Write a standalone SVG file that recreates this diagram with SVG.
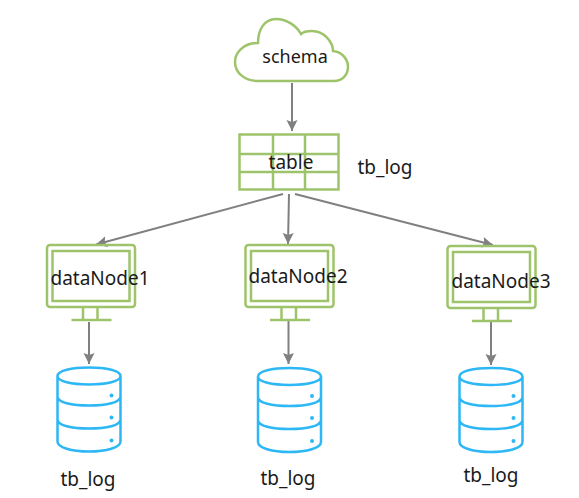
<svg xmlns="http://www.w3.org/2000/svg" width="579" height="498" viewBox="0 0 579 498">
<style>
.g{fill:none;stroke:#9dc46b;stroke-width:2.500}
.b{fill:none;stroke:#2db7f5;stroke-width:2.500}
.d{fill:#2db7f5}
.c{fill:none;stroke:#808080;stroke-width:2}
text{font-family:"Noto Sans","Open Sans",sans-serif;font-size:19px;fill:#1a1a1a}
.m{text-anchor:middle}
</style>
<defs>
<marker id="a" markerUnits="userSpaceOnUse" markerWidth="12" markerHeight="12" refX="11" refY="5.500" orient="auto"><path d="M0 0L11 5.500L0 11L2 5.500Z" fill="#808080"/></marker>
<g id="mon">
<rect x="-42.500" y="0" width="88" height="62" rx="3" class="g"/>
<rect x="-37" y="6" width="77" height="50" class="g"/>
<path d="M-6.500 62V75M8 62V75M-18 75H22" class="g"/>
</g>
<g id="cyl">
<path d="M0 8.500C0 3 14 0 31.500 0S63 3 63 8.500V74C63 80 49 84 31.500 84S0 80 0 74Z M0 8.500C0 14 14 17 31.500 17S63 14 63 8.500M0 29C0 35 14 38 31.500 38S63 35 63 29M0 52C0 58 14 61 31.500 61S63 58 63 52" class="b"/>
<circle cx="54" cy="28" r="2" class="d"/><circle cx="54" cy="50" r="2" class="d"/><circle cx="54" cy="73" r="2" class="d"/>
</g>
</defs>
<g id="connectors">
<path d="M292 83V131" class="c" marker-end="url(#a)"/>
<path d="M283 194L96 244.500" class="c" marker-end="url(#a)"/>
<path d="M289 194L288 244" class="c" marker-end="url(#a)"/>
<path d="M295 194L493 245" class="c" marker-end="url(#a)"/>
<path d="M89 322V364" class="c" marker-end="url(#a)"/>
<path d="M288.500 320V364" class="c" marker-end="url(#a)"/>
<path d="M491 322V365" class="c" marker-end="url(#a)"/>
</g>
<g id="schema">
<path d="M258 81H334C343 81 348 74 348 67C348 59 342 52 333 51C333 42 324 31 312 31C307 31 303 32 301 34C296 25 286 19 276 19C264 19 258 30 258 43C243 43 235 53 235 62C235 73 245 81 258 81Z" class="g"/>
<text x="295" y="63" class="m" style="font-size:18px">schema</text>
</g>
<g id="table">
<rect x="239.500" y="134.500" width="99" height="55" class="g"/>
<path d="M273 134V190M305 134V190M239 154H339M239 172H339" class="g"/>
<text x="291" y="169" class="m">table</text>
</g>
<text x="385" y="174" class="m">tb_log</text>
<g id="dataNode1">
<use href="#mon" x="89.500" y="245"/>
<text x="100" y="285" class="m">dataNode1</text>
</g>
<g id="dataNode2">
<use href="#mon" x="288" y="245"/>
<text x="298" y="283" class="m">dataNode2</text>
</g>
<g id="dataNode3">
<use href="#mon" x="490" y="246"/>
<text x="501" y="288" class="m">dataNode3</text>
</g>
<g id="db1"><use href="#cyl" x="57.500" y="367.500"/><text x="88" y="486" class="m">tb_log</text></g>
<g id="db2"><use href="#cyl" x="258" y="368"/><text x="288" y="485" class="m">tb_log</text></g>
<g id="db3"><use href="#cyl" x="459.500" y="368"/><text x="491" y="482" class="m">tb_log</text></g>
</svg>
